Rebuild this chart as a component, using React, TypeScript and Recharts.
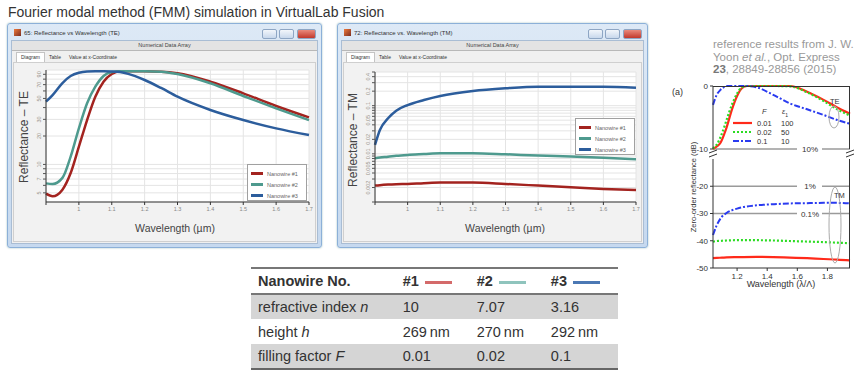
import React from 'react';
import { LineChart, Line, XAxis, YAxis, CartesianGrid, ReferenceLine } from 'recharts';

const FONT = '"Liberation Sans", Arial, sans-serif';

// VirtualLab FMM results, TE reflectance (%) vs wavelength (µm)
const teWavelength = [0.9, 0.92, 0.95, 0.975, 1.0, 1.025, 1.05, 1.075, 1.1, 1.125, 1.15, 1.2, 1.25, 1.3, 1.4, 1.5, 1.6, 1.7];
const teWire1 = [4.9, 4.6, 5.4, 8.1, 15.4, 29.5, 52.1, 75.2, 90.7, 96.9, 96.9, 96.9, 96.0, 92.3, 75.2, 56.6, 41.6, 31.5];
const teWire2 = [6.3, 6.2, 7.2, 12.1, 24.1, 44.4, 66.5, 86.4, 95.2, 96.9, 96.9, 96.9, 96.0, 90.7, 72.3, 53.1, 39.3, 29.5];
const teWire3 = [46.2, 54.3, 72.8, 86.4, 93.6, 96.4, 96.9, 96.9, 96.5, 95.0, 91.0, 78.4, 64.5, 52.1, 37.7, 29.5, 24.1, 20.5];

// VirtualLab FMM results, TM reflectance (%)
const tmWavelength = [0.9, 0.915, 0.94, 0.965, 1.0, 1.05, 1.1, 1.2, 1.3, 1.4, 1.5, 1.6, 1.7];
const tmWire1 = [0.00219, 0.00224, 0.0023, 0.00234, 0.00237, 0.00246, 0.00253, 0.00253, 0.00237, 0.00219, 0.00202, 0.00187, 0.00178];
const tmWire2 = [0.0081, 0.0084, 0.0087, 0.0091, 0.0095, 0.0099, 0.0103, 0.0103, 0.0098, 0.0092, 0.0088, 0.0083, 0.0077];
const tmWire3 = [0.0153, 0.0313, 0.0547, 0.0787, 0.103, 0.131, 0.159, 0.202, 0.23, 0.248, 0.248, 0.248, 0.236];

const wlTicks = [0.9, 1, 1.1, 1.2, 1.3, 1.4, 1.5, 1.6, 1.7];
const teTicks = [5, 6, 7, 8, 9, 10, 20, 30, 40, 50, 60, 70, 80, 90];
const teTickLabels = [5, 7, 10, 20, 30, 50, 70, 90];
const tmTicks = [0.001, 0.002, 0.003, 0.004, 0.005, 0.006, 0.007, 0.008, 0.009, 0.01, 0.02, 0.03, 0.04, 0.05, 0.06, 0.07, 0.08, 0.09, 0.1, 0.2, 0.3, 0.4, 0.5];
const tmTickLabels = [0.002, 0.005, 0.01, 0.02, 0.05, 0.1, 0.2, 0.4];

const wireNames = ['Nanowire #1', 'Nanowire #2', 'Nanowire #3'];
const wireColors = ['#a3231f', '#4e9a8e', '#2c5d9c'];

// Yoon et al., zero-order reflectance (dB) vs λ/Λ
const refTeLambda = [1.04, 1.065, 1.09, 1.115, 1.13, 1.165, 1.2, 1.23, 1.265, 1.33, 1.44, 1.55, 1.665, 1.775, 1.865, 1.95];
const refTeF001 = [-10, -9.6, -9.0, -7.6, -6.6, -3.8, -1.6, -0.4, 0, 0, 0, 0, -0.9, -2.2, -3.4, -4.4];
const refTeF002 = [-9.9, -9.3, -8.1, -6.5, -5.4, -3.0, -1.2, -0.25, 0, 0, 0, -0.05, -1.0, -2.4, -3.7, -4.7];
const refTeF01 = [-3.0, -1.4, -0.6, -0.15, 0, 0, 0, 0, 0, -0.2, -1.4, -2.75, -3.7, -4.6, -5.4, -6.0];

const refTmLambda = [1.04, 1.065, 1.1, 1.13, 1.2, 1.33, 1.44, 1.55, 1.665, 1.775, 1.865, 1.95];
const refTmF001 = [-46.4, -46.3, -46.2, -46.1, -46.0, -45.9, -46.0, -46.2, -46.4, -46.7, -46.9, -47.2];
const refTmF002 = [-40.3, -40.1, -40.0, -39.9, -39.8, -39.8, -39.9, -40.1, -40.3, -40.5, -40.7, -40.9];
const refTmF01 = [-37.9, -34.3, -31.1, -29.8, -28.2, -27.0, -26.6, -26.3, -26.2, -26.1, -26.1, -26.3];

const refLambdaTicks = [1.2, 1.4, 1.6, 1.8];
const refTopTicks = [-10, 0];
const refBottomTicks = [-50, -40, -30, -20];
const refColors = ['#ff2a1a', '#2bdc22', '#2a3bf0'];
const refDashes = ['0', '2 2', '6 2 2 2'];
const refLegendF = ['0.01', '0.02', '0.1'];
const refLegendEps = ['100', '50', '10'];

const tableHead = ['Nanowire No.', '#1', '#2', '#3'];
const tableRows = [
  ['refractive index ', 'n', '10', '7.07', '3.16'],
  ['height ', 'h', '269\u2009nm', '270\u2009nm', '292\u2009nm'],
  ['filling factor ', 'F', '0.01', '0.02', '0.1'],
];
const tableLineColors = ['#d46a6a', '#8fc4bd', '#4b78b4'];

const teData = teWavelength.map((wl, i) => ({ wl, w1: teWire1[i], w2: teWire2[i], w3: teWire3[i] }));
const tmData = tmWavelength.map((wl, i) => ({ wl, w1: tmWire1[i], w2: tmWire2[i], w3: tmWire3[i] }));
const refTeData = refTeLambda.map((x, i) => ({ x, a: refTeF001[i], b: refTeF002[i], c: refTeF01[i] }));
const refTmData = refTmLambda.map((x, i) => ({ x, a: refTmF001[i], b: refTmF002[i], c: refTmF01[i] }));

function makeRotTick(labels: number[]) {
  return (props: any) => {
    const { x, y, payload } = props;
    if (!labels.includes(payload.value)) return <g />;
    return (
      <text x={x} y={y} transform={`rotate(-90 ${x} ${y})`} textAnchor="middle" fontSize={5.5} fill="#9a948a" fontFamily={FONT}>
        {String(payload.value)}
      </text>
    );
  };
}

const abs = (left: number, top: number, extra: React.CSSProperties = {}): React.CSSProperties => ({
  position: 'absolute', left, top, ...extra,
});

function VText({ cx, cy, size, color = '#333', children }: any) {
  return (
    <div style={{ position: 'absolute', left: cx, top: cy, transform: 'translate(-50%, -50%) rotate(-90deg)', whiteSpace: 'nowrap', fontSize: size, color, fontFamily: FONT }}>
      {children}
    </div>
  );
}

function VLWindow({ left, width, title }: { left: number; width: number; title: string }) {
  const btn = (right: number, w: number, bg: string): React.CSSProperties => ({
    position: 'absolute', right, top: 5, width: w, height: 8, borderRadius: 2, border: '1px solid #8ea6c4', background: bg,
  });
  return (
    <div style={abs(left, 23, { width, height: 225, boxSizing: 'border-box', border: '1px solid #8cb0d8', borderRadius: 3, background: 'linear-gradient(#dde9f6, #c6d9ef)', boxShadow: '0 0 2px #9bb' })}>
      <div style={abs(6, 5, { width: 7, height: 7, background: 'linear-gradient(135deg, #f07a3a, #7a2e22)' })} />
      <div style={abs(16, 6, { fontSize: 6, color: '#333', fontFamily: FONT, whiteSpace: 'nowrap' })}>{title}</div>
      <div style={btn(44, 13, 'linear-gradient(#f2f6fb, #c8d8ec)')} />
      <div style={btn(27, 13, 'linear-gradient(#f2f6fb, #c8d8ec)')} />
      <div style={btn(5, 17, 'linear-gradient(#e98a7c, #c2392c)')} />
      <div style={abs(3, 16, { right: 3, bottom: 3, background: '#f0f0f0', border: '1px solid #a9bdd4' })}>
        <div style={abs(0, 0, { right: 0, height: 9, background: '#e3e3e3', borderBottom: '1px solid #b8b8b8', textAlign: 'center', fontSize: 5.5, lineHeight: '9px', color: '#444', fontFamily: FONT })}>
          Numerical Data Array
        </div>
        <div style={abs(4, 11, { height: 9, padding: '0 4px', background: '#fff', border: '1px solid #c4c4c4', borderBottom: 'none', fontSize: 5, lineHeight: '9px', color: '#333', fontFamily: FONT })}>Diagram</div>
        <div style={abs(37, 12, { fontSize: 5, lineHeight: '9px', color: '#333', fontFamily: FONT })}>Table</div>
        <div style={abs(57, 12, { fontSize: 5, lineHeight: '9px', color: '#333', fontFamily: FONT, whiteSpace: 'nowrap' })}>Value at x-Coordinate</div>
        <div style={abs(1, 21, { right: 1, bottom: 1, background: '#f2f2f2', border: '1px solid #cfcfcf' })} />
      </div>
    </div>
  );
}

function VLLegend({ left, top }: { left: number; top: number }) {
  return (
    <div style={abs(left, top, { width: 60, height: 37, boxSizing: 'border-box', background: '#fff', border: '1px solid #a0a0a0', padding: '3px 0 0 3px' })}>
      {wireNames.map((n, i) => (
        <div key={n} style={{ display: 'flex', alignItems: 'center', height: 11 }}>
          <div style={{ width: 12, height: 3, background: wireColors[i], marginRight: 4 }} />
          <span style={{ fontSize: 5.5, color: '#666', fontFamily: FONT }}>{n}</span>
        </div>
      ))}
    </div>
  );
}

function VLPlot({ data, left, top, width, height, domain, ticks, labels }: any) {
  return (
    <div style={abs(left - 30, top - 6)}>
      <LineChart width={width + 36} height={height + 26} data={data} margin={{ top: 6, right: 6, bottom: 0, left: 0 }}>
        <CartesianGrid fill="#fff" stroke="#e4e4e4" strokeWidth={1} />
        <XAxis type="number" dataKey="wl" domain={[0.9, 1.7]} ticks={wlTicks} interval={0} height={20} tickSize={3}
          tick={{ fontSize: 5.5, fill: '#888', fontFamily: FONT }} tickFormatter={(v: number) => (v === 0.9 ? '' : String(v))}
          axisLine={{ stroke: '#333' }} tickLine={{ stroke: '#333' }} />
        <YAxis type="number" scale="log" domain={domain} allowDataOverflow ticks={ticks} interval={0} width={30} tickSize={3} tickMargin={2}
          tick={makeRotTick(labels)} axisLine={{ stroke: '#333' }} tickLine={{ stroke: '#555' }} />
        <Line type="monotone" dataKey="w1" stroke={wireColors[0]} strokeWidth={2.5} dot={false} isAnimationActive={false} />
        <Line type="monotone" dataKey="w2" stroke={wireColors[1]} strokeWidth={2.5} dot={false} isAnimationActive={false} />
        <Line type="monotone" dataKey="w3" stroke={wireColors[2]} strokeWidth={2.5} dot={false} isAnimationActive={false} />
      </LineChart>
    </div>
  );
}

function GapLabel(props: any) {
  const { viewBox, value } = props;
  const cx = viewBox.x + 97;
  return (
    <g>
      <rect x={cx - 13} y={viewBox.y - 3} width={25} height={6} fill="#fff" />
      <text x={cx} y={viewBox.y + 3} textAnchor="middle" fontSize={8} fill="#333" fontFamily={FONT}>{value}</text>
    </g>
  );
}

export default function App() {
  const refTick = { fontSize: 8, fill: '#333', fontFamily: FONT };
  return (
    <div style={{ position: 'absolute', left: 0, top: 0, width: 865, height: 375, overflow: 'hidden', background: '#fff', fontFamily: FONT }}>
      <div style={abs(8, 4, { fontSize: 14, color: '#333', whiteSpace: 'nowrap' })}>
        Fourier modal method (FMM) simulation in VirtualLab Fusion
      </div>

      <VLWindow left={7} width={315} title="65: Reflectance vs Wavelength (TE)" />
      <VLWindow left={337} width={311} title="72: Reflectance vs. Wavelength (TM)" />

      <VLPlot data={teData} left={46} top={70} width={263} height={132} domain={[4, 100]} ticks={teTicks} labels={teTickLabels} />
      <VLPlot data={tmData} left={375} top={72} width={261} height={130} domain={[0.001, 0.5]} ticks={tmTicks} labels={tmTickLabels} />

      <VLLegend left={247} top={164} />
      <VLLegend left={575} top={118} />

      <VText cx={24} cy={137} size={12} color="#444">Reflectance – TE</VText>
      <VText cx={353} cy={140} size={12} color="#444">Reflectance – TM</VText>
      <div style={abs(175, 228, { transform: 'translate(-50%, -50%)', fontSize: 10.5, color: '#444', whiteSpace: 'nowrap' })}>Wavelength (µm)</div>
      <div style={abs(505, 228, { transform: 'translate(-50%, -50%)', fontSize: 10.5, color: '#444', whiteSpace: 'nowrap' })}>Wavelength (µm)</div>

      {/* reference results */}
      <div style={abs(713, 38, { fontSize: 11.5, lineHeight: '12.5px', color: '#999', whiteSpace: 'nowrap' })}>
        reference results from J. W.<br />
        Yoon <i>et al.</i>, Opt. Express<br />
        <b style={{ color: '#777' }}>23</b>, 28849-28856 (2015)
      </div>
      <div style={abs(672, 87, { fontSize: 9, color: '#333' })}>(a)</div>

      <div style={abs(683, 80)}>
        <LineChart width={173} height={79} data={refTeData} margin={{ top: 6, right: 6, bottom: 10, left: 0 }}>
          <XAxis type="number" dataKey="x" domain={[1.04, 1.95]} hide />
          <YAxis type="number" domain={[-10, 0]} ticks={refTopTicks} interval={0} width={30} tickSize={3} tick={refTick} axisLine={{ stroke: '#333' }} tickLine={{ stroke: '#333' }} />
          <ReferenceLine y={-10} stroke="#9a9a9a" strokeWidth={1.5} label={<GapLabel value="10%" />} />
          <Line type="monotone" dataKey="a" stroke={refColors[0]} strokeWidth={2.2} dot={false} isAnimationActive={false} />
          <Line type="monotone" dataKey="b" stroke={refColors[1]} strokeWidth={2.2} strokeDasharray={refDashes[1]} dot={false} isAnimationActive={false} />
          <Line type="monotone" dataKey="c" stroke={refColors[2]} strokeWidth={2} strokeDasharray={refDashes[2]} dot={false} isAnimationActive={false} />
        </LineChart>
      </div>
      <div style={abs(683, 153)}>
        <LineChart width={173} height={135} data={refTmData} margin={{ top: 6, right: 6, bottom: 0, left: 0 }}>
          <XAxis type="number" dataKey="x" domain={[1.04, 1.95]} ticks={refLambdaTicks} interval={0} height={20} tickSize={3} tick={refTick} axisLine={{ stroke: '#333' }} tickLine={{ stroke: '#333' }} />
          <YAxis type="number" domain={[-50, -10]} ticks={refBottomTicks} interval={0} width={30} tickSize={3} tick={refTick} axisLine={{ stroke: '#333' }} tickLine={{ stroke: '#333' }} />
          <ReferenceLine y={-20} stroke="#9a9a9a" strokeWidth={1.5} label={<GapLabel value="1%" />} />
          <ReferenceLine y={-30} stroke="#9a9a9a" strokeWidth={1.5} label={<GapLabel value="0.1%" />} />
          <Line type="monotone" dataKey="a" stroke={refColors[0]} strokeWidth={2.2} dot={false} isAnimationActive={false} />
          <Line type="monotone" dataKey="b" stroke={refColors[1]} strokeWidth={2.2} strokeDasharray={refDashes[1]} dot={false} isAnimationActive={false} />
          <Line type="monotone" dataKey="c" stroke={refColors[2]} strokeWidth={2} strokeDasharray={refDashes[2]} dot={false} isAnimationActive={false} />
        </LineChart>
      </div>
      {/* frame edges + axis break */}
      <div style={abs(713, 86, { width: 137, height: 63, borderTop: '1px solid #333', borderRight: '1px solid #333', boxSizing: 'border-box' })} />
      <div style={abs(713, 159, { width: 137, height: 109, borderRight: '1px solid #333', boxSizing: 'border-box' })} />
      <svg width={865} height={375} style={abs(0, 0, { pointerEvents: 'none' })}>
        <g stroke="#333" strokeWidth={1}>
          <line x1={709} y1={153} x2={717} y2={150} /><line x1={709} y1={157} x2={717} y2={154} />
          <line x1={846} y1={153} x2={854} y2={150} /><line x1={846} y1={157} x2={854} y2={154} />
        </g>
        <ellipse cx={834} cy={117} rx={5} ry={11} fill="none" stroke="#aaa" />
        <ellipse cx={835} cy={225} rx={6} ry={38} fill="none" stroke="#aaa" />
        {refColors.map((c, i) => (
          <line key={c} x1={733} x2={752} y1={123 + i * 9} y2={123 + i * 9} stroke={c} strokeWidth={2.2} strokeDasharray={refDashes[i]} />
        ))}
      </svg>
      <div style={abs(830, 97, { fontSize: 7.5, color: '#333' })}>TE</div>
      <div style={abs(834, 191, { fontSize: 7.5, color: '#333' })}>TM</div>
      <div style={abs(762, 107, { fontSize: 7.5, color: '#333', fontStyle: 'italic' })}>F</div>
      <div style={abs(782, 107, { fontSize: 7.5, color: '#333', fontStyle: 'italic' })}>ε<sub style={{ fontSize: 5, fontStyle: 'normal' }}>1</sub></div>
      {refLegendF.map((f, i) => (
        <React.Fragment key={f}>
          <div style={abs(757, 119 + i * 9, { fontSize: 7.5, color: '#333' })}>{f}</div>
          <div style={abs(781, 119 + i * 9, { fontSize: 7.5, color: '#333' })}>{refLegendEps[i]}</div>
        </React.Fragment>
      ))}
      <VText cx={693} cy={187} size={7.5}>Zero-order reflectance (dB)</VText>
      <div style={abs(781, 284, { transform: 'translate(-50%, -50%)', fontSize: 9, color: '#333', whiteSpace: 'nowrap' })}>Wavelength (λ/Λ)</div>

      {/* parameter table */}
      <table style={{ position: 'absolute', left: 251, top: 267, width: 367, borderCollapse: 'collapse', fontSize: 14.5, color: '#333', fontFamily: FONT }}>
        <tbody>
          <tr style={{ height: 26, borderTop: '2px solid #777', borderBottom: '2px solid #777' }}>
            {tableHead.map((h, i) => (
              <td key={h} style={{ fontWeight: 'bold', padding: '0 0 0 7px', width: i === 0 ? 145 : 72, whiteSpace: 'nowrap' }}>
                {h}
                {i > 0 && <span style={{ display: 'inline-block', width: 27, height: 3, background: tableLineColors[i - 1], marginLeft: 6, verticalAlign: 'middle' }} />}
              </td>
            ))}
          </tr>
          {tableRows.map((r, ri) => (
            <tr key={r[0]} style={{ height: 25, background: ri % 2 === 0 ? '#d5d5d5' : '#fff', borderBottom: ri === 2 ? '2px solid #666' : undefined }}>
              <td style={{ padding: '0 0 0 7px', whiteSpace: 'nowrap' }}>{r[0]}<i>{r[1]}</i></td>
              <td style={{ padding: '0 0 0 7px' }}>{r[2]}</td>
              <td style={{ padding: '0 0 0 7px' }}>{r[3]}</td>
              <td style={{ padding: '0 0 0 7px' }}>{r[4]}</td>
            </tr>
          ))}
        </tbody>
      </table>
    </div>
  );
}
